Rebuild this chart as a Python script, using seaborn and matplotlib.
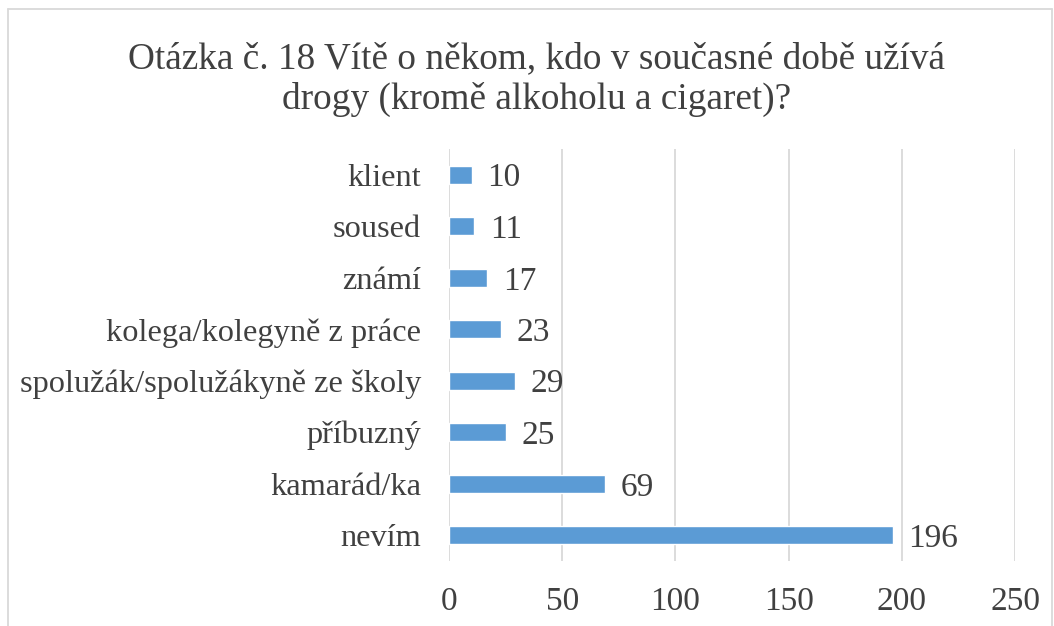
import matplotlib.pyplot as plt
import seaborn as sns
import pandas as pd
from matplotlib.lines import Line2D

categories = [
    "klient",
    "soused",
    "známí",
    "kolega/kolegyně z práce",
    "spolužák/spolužákyně ze školy",
    "příbuzný",
    "kamarád/ka",
    "nevím",
]
values = [10, 11, 17, 23, 29, 25, 69, 196]
x_ticks = [0, 50, 100, 150, 200, 250]

title = "Otázka č. 18 Vítě o někom, kdo v současné době užívá\ndrogy (kromě alkoholu a cigaret)?"

df = pd.DataFrame({"kategorie": categories, "pocet": values})

sns.set_theme(style="white")
plt.rcParams["font.family"] = ["Liberation Serif", "DejaVu Serif"]

text_color = "#404040"
grid_color = "#D9D9D9"
bar_color = "#5B9BD5"

fig = plt.figure(figsize=(10.54, 6.26), dpi=100)
ax = fig.add_axes([449 / 1054, 1 - 561 / 626, (1015 - 449) / 1054, (561 - 149) / 626])

sns.barplot(data=df, x="pocet", y="kategorie", color=bar_color, width=0.35,
            saturation=1, ax=ax, order=categories)

for i, v in enumerate(values):
    ax.text(v + 7, i, str(v), va="center_baseline", ha="left", fontsize=24, color=text_color)

ax.set_xlim(0, 250)
ax.set_ylim(len(categories) - 0.5, -0.5)
ax.set_xticks(x_ticks)
ax.set_xticklabels([str(t) for t in x_ticks])
ax.xaxis.grid(True, color=grid_color, linewidth=1.3)
ax.set_axisbelow(True)
for s in ax.spines.values():
    s.set_visible(False)
ax.tick_params(axis="both", length=0, colors=text_color)
ax.tick_params(axis="x", pad=18, labelsize=24)
ax.tick_params(axis="y", pad=20, labelsize=23.3)
ax.set_xlabel("")
ax.set_ylabel("")

fig.text(537 / 1054, 1 - 79 / 626, title, ha="center", va="center", fontsize=26.8,
         color=text_color, linespacing=1.2)

# chart border
x0, x1 = 8 / 1054, 1052 / 1054
y0 = 1 - 9 / 626
fig.add_artist(Line2D([x0, x0], [0, y0], color=grid_color, lw=1.3, transform=fig.transFigure))
fig.add_artist(Line2D([x0, x1], [y0, y0], color=grid_color, lw=1.3, transform=fig.transFigure))
fig.add_artist(Line2D([x1, x1], [0, y0], color=grid_color, lw=1.3, transform=fig.transFigure))

fig.savefig("out.png", dpi=100, facecolor="white")
